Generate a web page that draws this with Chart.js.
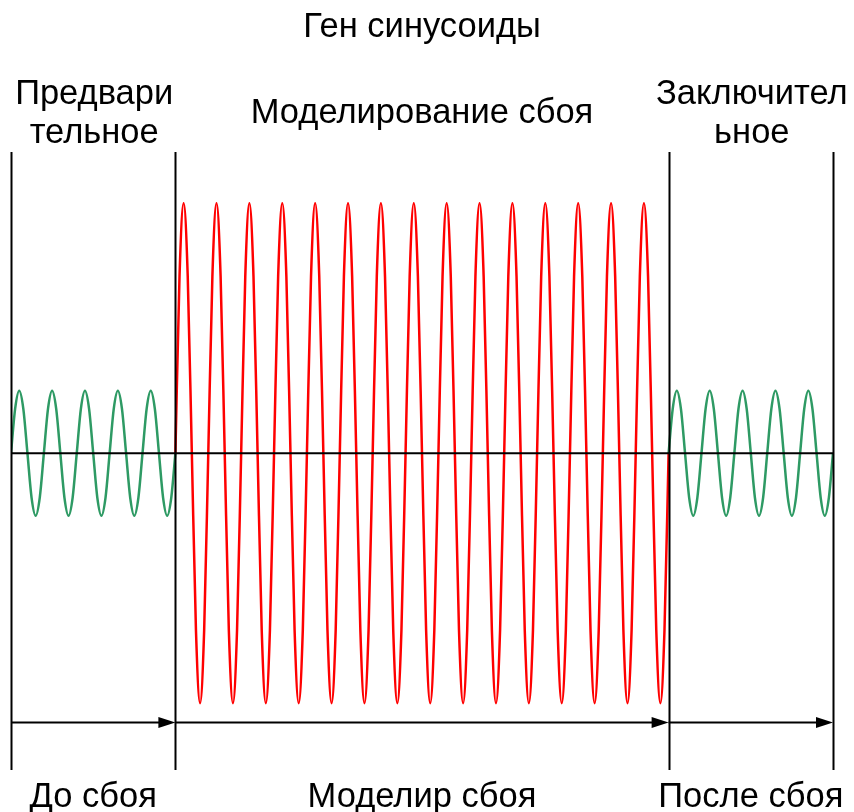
<!DOCTYPE html>
<html>
<head>
<meta charset="utf-8">
<script src="https://cdn.jsdelivr.net/npm/chart.js@4"></script>
<style>
  html, body { margin: 0; padding: 0; background: #fff; }
  #wrap { width: 854px; height: 812px; }
</style>
</head>
<body>
<div id="wrap"><canvas id="myChart"></canvas></div>
<script>
const ctx = document.getElementById('myChart');

// x in periods of the sine, samples every 1/8 period
const step = 1 / 8;
const boundaries = [0, 5, 20, 25];

const preFault = [
  0, .71, 1, .71, 0, -.71, -1, -.71,
  0, .71, 1, .71, 0, -.71, -1, -.71,
  0, .71, 1, .71, 0, -.71, -1, -.71,
  0, .71, 1, .71, 0, -.71, -1, -.71,
  0, .71, 1, .71, 0, -.71, -1, -.71,
  0
];
const faultSim = [
  0, 2.83, 4, 2.83, 0, -2.83, -4, -2.83,
  0, 2.83, 4, 2.83, 0, -2.83, -4, -2.83,
  0, 2.83, 4, 2.83, 0, -2.83, -4, -2.83,
  0, 2.83, 4, 2.83, 0, -2.83, -4, -2.83,
  0, 2.83, 4, 2.83, 0, -2.83, -4, -2.83,
  0, 2.83, 4, 2.83, 0, -2.83, -4, -2.83,
  0, 2.83, 4, 2.83, 0, -2.83, -4, -2.83,
  0, 2.83, 4, 2.83, 0, -2.83, -4, -2.83,
  0, 2.83, 4, 2.83, 0, -2.83, -4, -2.83,
  0, 2.83, 4, 2.83, 0, -2.83, -4, -2.83,
  0, 2.83, 4, 2.83, 0, -2.83, -4, -2.83,
  0, 2.83, 4, 2.83, 0, -2.83, -4, -2.83,
  0, 2.83, 4, 2.83, 0, -2.83, -4, -2.83,
  0, 2.83, 4, 2.83, 0, -2.83, -4, -2.83,
  0, 2.83, 4, 2.83, 0, -2.83, -4, -2.83,
  0
];
const postFault = [
  0, .71, 1, .71, 0, -.71, -1, -.71,
  0, .71, 1, .71, 0, -.71, -1, -.71,
  0, .71, 1, .71, 0, -.71, -1, -.71,
  0, .71, 1, .71, 0, -.71, -1, -.71,
  0, .71, 1, .71, 0, -.71, -1, -.71,
  0
];

const titleText = 'Ген синусоиды';
const topLabels = [['Предвари', 'тельное'], ['Моделирование сбоя'], ['Заключител', 'ьное']];
const bottomLabels = ['До сбоя', 'Моделир сбоя', 'После сбоя'];

const greenColor = '#2e9a64';
const redColor = '#ff0000';

function toPoints(values, start) {
  return values.map((v, i) => ({ x: start + i * step, y: v }));
}

const arrowY = -4.3;

const diagram = {
  id: 'diagram',
  afterDatasetsDraw(chart) {
    const c = chart.ctx;
    const xs = chart.scales.x, ys = chart.scales.y;
    const area = chart.chartArea;
    c.save();
    c.strokeStyle = '#000';
    c.fillStyle = '#000';
    c.lineWidth = 2;

    // baseline
    const y0 = ys.getPixelForValue(0);
    c.beginPath();
    c.moveTo(xs.getPixelForValue(0), y0);
    c.lineTo(xs.getPixelForValue(25), y0);
    c.stroke();

    // vertical separators
    boundaries.forEach(b => {
      const px = Math.round(xs.getPixelForValue(b)) + 0.5;
      c.beginPath();
      c.moveTo(px, area.top);
      c.lineTo(px, area.bottom);
      c.stroke();
    });

    // arrows
    const ay = Math.round(ys.getPixelForValue(arrowY)) + 0.5;
    for (let i = 0; i < 3; i++) {
      const x1 = xs.getPixelForValue(boundaries[i]);
      const x2 = xs.getPixelForValue(boundaries[i + 1]);
      c.beginPath();
      c.moveTo(x1, ay);
      c.lineTo(x2 - 10, ay);
      c.stroke();
      c.beginPath();
      c.moveTo(x2, ay);
      c.lineTo(x2 - 17, ay - 5.5);
      c.lineTo(x2 - 17, ay + 5.5);
      c.closePath();
      c.fill();
    }

    // texts
    c.font = '34.5px "Liberation Sans", Arial, sans-serif';
    c.textAlign = 'center';
    c.textBaseline = 'alphabetic';
    c.fillText(titleText, chart.width / 2 - 5, 37);
    for (let i = 0; i < 3; i++) {
      const cx = (xs.getPixelForValue(boundaries[i]) + xs.getPixelForValue(boundaries[i + 1])) / 2;
      const lines = topLabels[i];
      if (lines.length === 2) {
        c.fillText(lines[0], cx + 1, 104);
        c.fillText(lines[1], cx + 1, 143);
      } else {
        c.fillText(lines[0], cx, 123);
      }
      c.fillText(bottomLabels[i], cx, 807);
    }
    c.restore();
  }
};

new Chart(ctx, {
  type: 'line',
  data: {
    datasets: [
      { data: toPoints(preFault, 0), borderColor: greenColor },
      { data: toPoints(faultSim, 5), borderColor: redColor },
      { data: toPoints(postFault, 20), borderColor: greenColor }
    ]
  },
  options: {
    responsive: true,
    maintainAspectRatio: false,
    animation: false,
    devicePixelRatio: 1,
    layout: { padding: { left: 11, right: 21, top: 152, bottom: 42 } },
    elements: {
      line: { borderWidth: 2.5, cubicInterpolationMode: 'monotone' },
      point: { radius: 0 }
    },
    plugins: {
      legend: { display: false },
      title: { display: false },
      tooltip: { enabled: false }
    },
    scales: {
      x: { type: 'linear', min: 0, max: 25, display: false },
      y: { min: -5.07, max: 4.82, display: false }
    }
  },
  plugins: [diagram]
});
</script>
</body>
</html>
